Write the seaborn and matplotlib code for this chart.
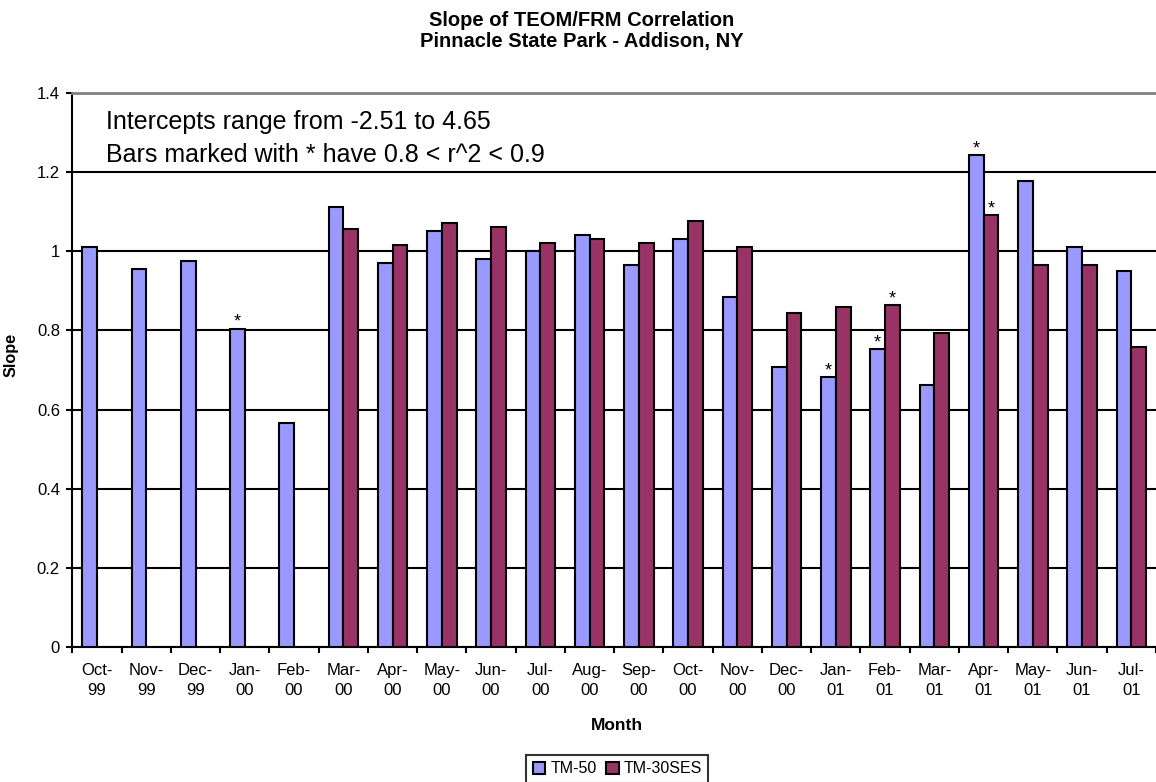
"""
Slope of TEOM/FRM correlation, Pinnacle State Park - Addison, NY
"""
import pandas as pd
import matplotlib.pyplot as plt
import seaborn as sns

months = ['Oct-\n99', 'Nov-\n99', 'Dec-\n99', 'Jan-\n00', 'Feb-\n00', 'Mar-\n00',
          'Apr-\n00', 'May-\n00', 'Jun-\n00', 'Jul-\n00', 'Aug-\n00', 'Sep-\n00',
          'Oct-\n00', 'Nov-\n00', 'Dec-\n00', 'Jan-\n01', 'Feb-\n01', 'Mar-\n01',
          'Apr-\n01', 'May-\n01', 'Jun-\n01', 'Jul-\n01']

tm50 = [1.010, 0.955, 0.976, 0.804, 0.566, 1.113, 0.971, 1.051, 0.981, 1.001, 1.041,
        0.965, 1.031, 0.885, 0.708, 0.682, 0.753, 0.662, 1.243, 1.178, 1.011, 0.950]
tm30ses = [None, None, None, None, None, 1.056, 1.016, 1.072, 1.061, 1.021, 1.031,
           1.021, 1.077, 1.010, 0.844, 0.859, 0.864, 0.794, 1.092, 0.965, 0.965, 0.758]

# bars marked with * (0.8 < r^2 < 0.9)
star_tm50 = [False, False, False, True, False, False, False, False, False, False, False,
             False, False, False, False, True, True, False, True, False, False, False]
star_tm30ses = [False, False, False, False, False, False, False, False, False, False, False,
                False, False, False, False, False, True, False, True, False, False, False]

series = ['TM-50', 'TM-30SES']
colors = {'TM-50': '#9999FF', 'TM-30SES': '#993366'}

sns.set_style('white')
plt.rcParams['font.family'] = ['Liberation Sans', 'DejaVu Sans']
plt.rcParams['text.color'] = 'black'
plt.rcParams['axes.labelcolor'] = 'black'
plt.rcParams['xtick.color'] = 'black'
plt.rcParams['ytick.color'] = 'black'

rows = []
for m, a, b in zip(months, tm50, tm30ses):
    rows.append({'Month': m, 'Sampler': 'TM-50', 'Slope': a})
    if b is not None:
        rows.append({'Month': m, 'Sampler': 'TM-30SES', 'Slope': b})
df = pd.DataFrame(rows)

fig = plt.figure(figsize=(11.56, 7.82), dpi=100)
ax = fig.add_axes([0.0627, 0.173, 0.9373, 0.7077])

sns.barplot(data=df, x='Month', y='Slope', hue='Sampler', order=months,
            hue_order=series, palette=colors, saturation=1, width=0.6, errorbar=None,
            edgecolor='black', linewidth=1.5, ax=ax, zorder=3)

# asterisks above flagged bars
stars = {'TM-50': star_tm50, 'TM-30SES': star_tm30ses}
for name, cont in zip(series, ax.containers):
    for bar in cont:
        xc = bar.get_x() + bar.get_width() / 2
        i = int(round(xc))
        if stars[name][i]:
            ax.annotate('*', (xc, bar.get_height()), xytext=(0, -1.5),
                        textcoords='offset points', ha='center', va='bottom',
                        fontsize=13, zorder=4)

ax.set_ylim(0, 1.4)
ax.set_yticks([0, 0.2, 0.4, 0.6, 0.8, 1.0, 1.2, 1.4])
ax.set_yticklabels(['0', '0.2', '0.4', '0.6', '0.8', '1', '1.2', '1.4'])
ax.set_xlim(-0.5, len(months) - 0.5)
ax.set_xticks([i - 0.5 for i in range(len(months) + 1)], minor=True)

ax.grid(axis='y', color='black', linewidth=1.5, zorder=0)
ax.set_axisbelow(True)
for s in ['left', 'bottom']:
    ax.spines[s].set_color('black')
    ax.spines[s].set_linewidth(1.5)
ax.spines['top'].set_color('#808080')
ax.spines['top'].set_linewidth(2)
ax.spines['right'].set_visible(False)

ax.tick_params(axis='x', which='major', length=0, pad=12, labelsize=12)
ax.tick_params(axis='x', which='minor', length=4, width=1.5, direction='out', bottom=True)
ax.tick_params(axis='y', which='major', length=4, width=1.5, direction='out', left=True,
               pad=5, labelsize=12)
for t in ax.get_xticklabels():
    t.set_linespacing(1.35)

ax.set_xlabel('Month', fontsize=12.5, fontweight='bold')
ax.xaxis.label.set_va('center')
ax.xaxis.set_label_coords(0.5025, -0.1415)
ax.set_ylabel('Slope', fontsize=11.7, fontweight='bold')
ax.yaxis.set_label_coords(-0.050, 0.527)

ax.text(0.031, 0.948, 'Intercepts range from -2.51 to 4.65', transform=ax.transAxes,
        fontsize=18, va='center', ha='left')
ax.text(0.031, 0.889, 'Bars marked with * have 0.8 < r^2 < 0.9', transform=ax.transAxes,
        fontsize=18, va='center', ha='left')

fig.text(0.503, 0.9744, 'Slope of TEOM/FRM Correlation', ha='center', va='center',
         fontsize=14.5, fontweight='bold')
fig.text(0.503, 0.9463, 'Pinnacle State Park - Addison, NY', ha='center', va='center',
         fontsize=14.5, fontweight='bold')

handles, labels = ax.get_legend_handles_labels()
ax.get_legend().remove()
leg = fig.legend(handles, labels, loc='upper center', bbox_to_anchor=(0.534, 0.0345),
                 borderaxespad=0, ncol=2, fontsize=11.5, frameon=True, fancybox=False,
                 edgecolor='black', handlelength=0.8, handleheight=0.8, handletextpad=0.3,
                 columnspacing=0.6, borderpad=0.4)
leg.get_frame().set_linewidth(1.5)

fig.savefig('out.png', dpi=100)
